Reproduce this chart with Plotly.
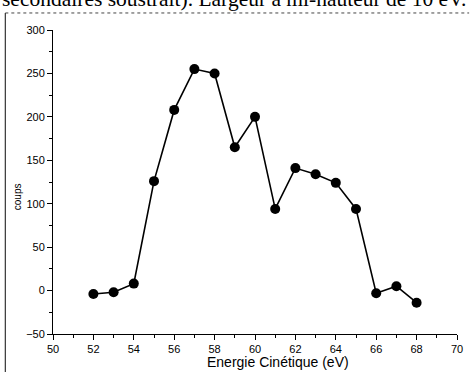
import plotly.graph_objects as go

energy = [52, 53, 54, 55, 56, 57, 58, 59, 60, 61, 62, 63, 64, 65, 66, 67, 68]
counts = [-4, -2, 8, 126, 208, 255, 250, 165, 200, 94, 141, 134, 124, 94, -3, 5, -14]

x_title = "Energie Cinétique (eV)"
y_title = "coups"
caption = "secondaires soustrait). Largeur à mi-hauteur de 10 eV."

fig = go.Figure()
fig.add_trace(go.Scatter(
    x=energy, y=counts, mode="lines+markers",
    line=dict(color="black", width=1.6),
    marker=dict(color="black", size=10),
    showlegend=False, cliponaxis=False,
))

axis_common = dict(
    showgrid=False, zeroline=False, showline=True, linecolor="black", linewidth=1,
    ticks="outside", ticklen=5, tickwidth=1, tickcolor="black",
    tickfont=dict(family="Liberation Sans, Arial", size=11, color="black"),
    minor=dict(ticks="outside", ticklen=3, tickcolor="black", tickwidth=1),
)

fig.update_xaxes(range=[50, 70], dtick=2, tick0=50, minor_dtick=1, **axis_common)
fig.update_yaxes(range=[-50, 300], dtick=50, tick0=0, minor_dtick=25, **axis_common)

fig.update_layout(
    width=470, height=372,
    margin=dict(l=53, r=7, t=30, b=38),
    plot_bgcolor="white", paper_bgcolor="white",
    annotations=[
        dict(text=x_title, xref="paper", yref="paper", x=0.558, y=-0.092,
             xanchor="center", yanchor="middle", showarrow=False,
             font=dict(family="Liberation Sans, Arial", size=14, color="black")),
        dict(text=y_title, xref="paper", yref="paper", x=-0.089, y=0.45,
             xanchor="center", yanchor="middle", showarrow=False, textangle=-90,
             font=dict(family="Liberation Sans, Arial", size=10, color="black")),
        dict(text=caption, xref="paper", yref="paper", x=-0.13, y=1.056,
             xanchor="left", yanchor="bottom", showarrow=False,
             font=dict(family="Liberation Serif, Times New Roman", size=21.5, color="black")),
    ],
    shapes=[
        dict(type="line", xref="paper", yref="paper", x0=-0.118, x1=1.03,
             y0=1.056, y1=1.056, line=dict(color="#444", width=1, dash="dot")),
        dict(type="line", xref="paper", yref="paper", x0=-0.118, x1=-0.118,
             y0=1.056, y1=-0.2, line=dict(color="#333", width=1.2)),
    ],
)

fig.write_html("out.html")
